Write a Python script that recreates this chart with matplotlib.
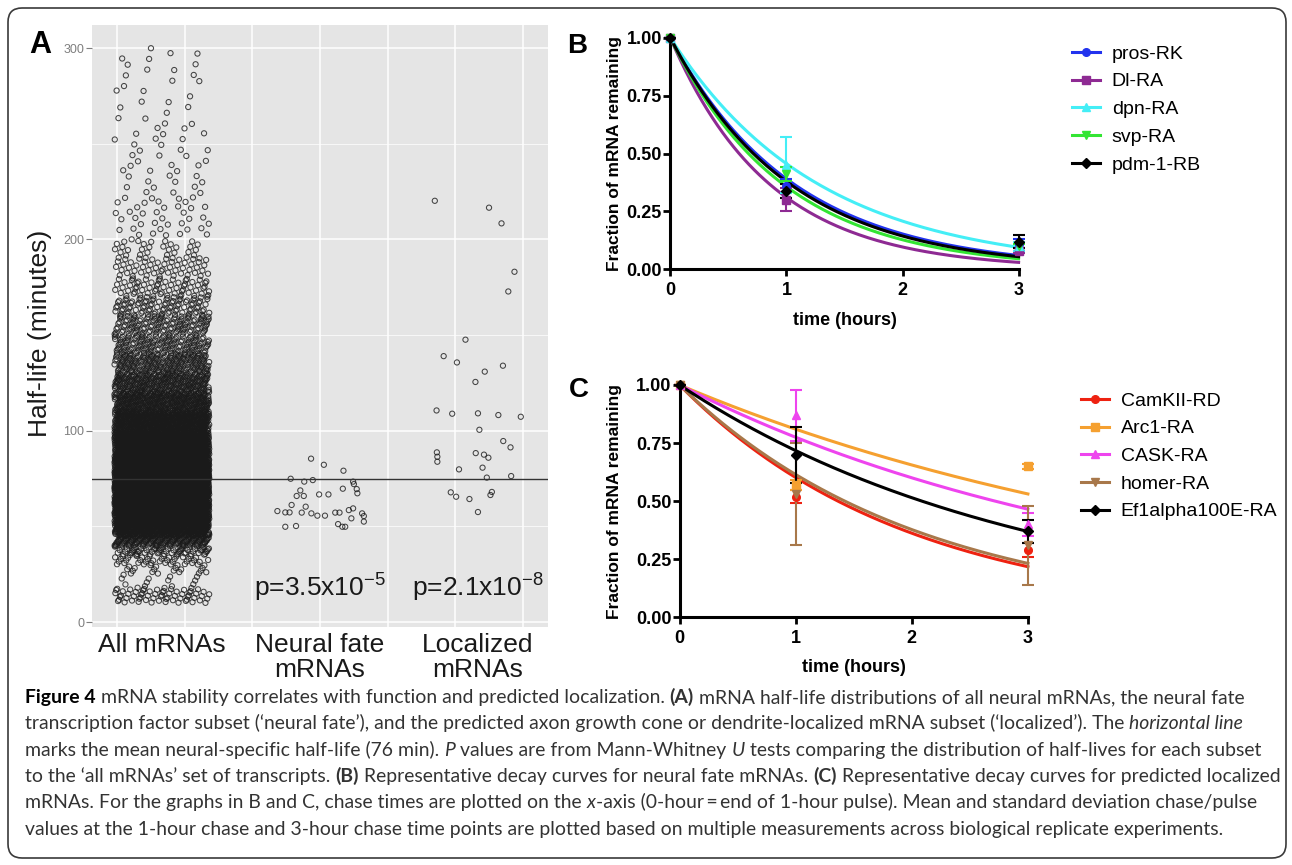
import numpy as np
import matplotlib
matplotlib.use("Agg")
import matplotlib.pyplot as plt
from matplotlib.lines import Line2D
from matplotlib.patches import FancyBboxPatch
from matplotlib.transforms import IdentityTransform
from matplotlib.font_manager import FontProperties

W, H = 1292, 865

# ---------------- panel A data ----------------
CATEGORIES = ["All mRNAs", "Neural fate\nmRNAs", "Localized\nmRNAs"]
P_LABELS = [r"p=3.5x10$^{-5}$", r"p=2.1x10$^{-8}$"]
MEAN_HALF_LIFE = 75

# all neural mRNAs, read as counts per half-life bin (minutes)
ALL_BIN_EDGES = [10, 18, 25, 30, 35, 40, 45, 50, 60, 70, 80, 90, 100, 110, 120,
                 130, 140, 150, 160, 170, 180, 190, 200, 220, 240, 260, 280, 300]
ALL_BIN_COUNTS = [65, 12, 20, 40, 70, 150, 300, 800, 1100, 1100, 900, 700, 500,
                  350, 260, 190, 140, 120, 90, 65, 50, 32, 35, 22, 18, 12, 14]

NEURAL_HALF_LIFE = [85.4, 82.2, 79.1, 74.9, 73.4, 74.2, 73.4, 72.1, 69.5, 67.3,
                    69.7, 68.8, 65.9, 65.9, 66.7, 66.7, 61.2, 60.3, 58.0, 57.3,
                    57.3, 57.2, 56.8, 55.6, 57.2, 57.2, 58.5, 59.4, 56.8, 55.4,
                    52.5, 55.6, 54.2, 51.2, 49.8, 49.8, 49.8, 50.2]
NEURAL_JITTER = [-0.056, 0.025, 0.149, -0.185, -0.099, -0.045, 0.210, 0.215, 0.233, 0.237,
                 0.145, -0.124, -0.147, -0.102, -0.005, 0.054, -0.179, -0.090, -0.269, -0.219,
                 -0.192, -0.115, -0.054, -0.016, 0.097, 0.124, 0.183, 0.210, 0.267, 0.278,
                 0.278, 0.032, 0.199, 0.115, 0.142, 0.160, -0.219, -0.151]

LOCAL_HALF_LIFE = [220.2, 216.6, 208.4, 183.1, 172.8, 147.6, 139.0, 135.7, 134.0, 130.9,
                   125.5, 110.6, 108.9, 109.1, 108.2, 107.3, 100.5, 94.6, 91.3, 88.7,
                   86.4, 83.8, 88.3, 87.5, 85.9, 79.8, 80.7, 75.5, 76.3, 67.8,
                   65.5, 64.3, 68.0, 66.4, 57.5]
LOCAL_JITTER = [-0.273, 0.070, 0.149, 0.231, 0.192, -0.079, -0.217, -0.133, 0.158, 0.043,
                -0.016, -0.262, -0.163, 0.000, 0.129, 0.271, 0.009, 0.160, 0.206, -0.260,
                -0.257, -0.257, -0.014, 0.038, 0.066, -0.120, 0.029, 0.056, 0.210, -0.172,
                -0.138, -0.054, 0.088, 0.079, 0.000]

# ---------------- panels B and C data ----------------
TIMES = [0, 1, 3]

B_GENES = ["pros-RK", "Dl-RA", "dpn-RA", "svp-RA", "pdm-1-RB"]
B_RATES = [0.94, 1.17, 0.785, 1.03, 0.97]          # fitted decay constant, 1/hour
B_MEANS = [[1.0, 0.36, 0.11], [1.0, 0.30, 0.08], [1.0, 0.45, 0.10],
           [1.0, 0.41, 0.10], [1.0, 0.34, 0.12]]
B_SDS = [[0, 0.03, 0.02], [0, 0.05, 0.01], [0, 0.12, 0.02],
         [0, 0.03, 0.01], [0, 0.03, 0.03]]
B_COLORS = ["#2233EE", "#8E2A93", "#44EEF6", "#33E533", "#000000"]

C_GENES = ["CamKII-RD", "Arc1-RA", "CASK-RA", "homer-RA", "Ef1alpha100E-RA"]
C_RATES = [0.508, 0.211, 0.255, 0.487, 0.332]
C_MEANS = [[1.0, 0.52, 0.29], [1.0, 0.57, 0.65], [1.0, 0.87, 0.40],
           [1.0, 0.53, 0.31], [1.0, 0.70, 0.37]]
C_SDS = [[0, 0.03, 0.03], [0, 0.02, 0.01], [0, 0.11, 0.05],
         [0, 0.22, 0.17], [0, 0.12, 0.05]]
C_COLORS = ["#EE2211", "#F5A030", "#EE44EE", "#A8784A", "#000000"]

MARKERS = ["o", "s", "^", "v", "D"]

CAPTION = [
    [("Figure 4", "b"), (" mRNA stability correlates with function and predicted localization. ", ""),
     ("(A)", "b"), (" mRNA half-life distributions of all neural mRNAs, the neural fate", "")],
    [("transcription factor subset (\u2018neural fate\u2019), and the predicted axon growth cone or "
      "dendrite-localized mRNA subset (\u2018localized\u2019). The ", ""), ("horizontal line", "i")],
    [("marks the mean neural-specific half-life (76 min). ", ""), ("P", "i"),
     (" values are from Mann-Whitney ", ""), ("U", "i"),
     (" tests comparing the distribution of half-lives for each subset", "")],
    [("to the \u2018all mRNAs\u2019 set of transcripts. ", ""), ("(B)", "b"),
     (" Representative decay curves for neural fate mRNAs. ", ""), ("(C)", "b"),
     (" Representative decay curves for predicted localized", "")],
    [("mRNAs. For the graphs in B and C, chase times are plotted on the ", ""), ("x", "i"),
     ("-axis (0-hour\u2009=\u2009end of 1-hour pulse). Mean and standard deviation chase/pulse", "")],
    [("values at the 1-hour chase and 3-hour chase time points are plotted based on multiple "
      "measurements across biological replicate experiments.", "")],
]

plt.rcParams["font.family"] = ["Liberation Sans", "DejaVu Sans"]
plt.rcParams["mathtext.fontset"] = "custom"
plt.rcParams["mathtext.rm"] = "Liberation Sans"
plt.rcParams["mathtext.default"] = "regular"


def px_axes(fig, x0, y0, x1, y1):
    return fig.add_axes([x0 / W, 1 - y1 / H, (x1 - x0) / W, (y1 - y0) / H])


def spread_bins(edges, counts, half_width):
    # place each binned transcript inside its bin, evenly spread like a strip chart
    a1, a2 = 0.7548776662466927, 0.5698402909980532
    xs, ys = [], []
    k = 0
    for lo, hi, n in zip(edges[:-1], edges[1:], counts):
        i = np.arange(k, k + n)
        ys.append(lo + (hi - lo) * ((0.5 + i * a2) % 1))
        xs.append(half_width * (2 * ((0.5 + i * a1) % 1) - 1))
        k += n
    return np.concatenate(xs), np.concatenate(ys)


def panel_a(fig):
    ax = px_axes(fig, 92, 25, 547.5, 627)
    ax.set_facecolor("#E5E5E5")
    for s in ax.spines.values():
        s.set_visible(False)
    ax.set_xlim(0.558, 3.44)
    ax.set_ylim(-2.6, 312.1)
    for gx in 2 + 0.428 * np.arange(-3, 4):
        ax.axvline(gx, color="white", lw=1.1, zorder=0.5)
    for gy in [0, 100, 200, 300]:
        ax.axhline(gy, color="white", lw=1.1, zorder=0.5)
    for gy in [50, 150, 250]:
        ax.axhline(gy, color="white", lw=0.5, zorder=0.5)

    style = dict(s=14, facecolors="none", edgecolors="#1a1a1a", linewidths=0.75, alpha=0.8, zorder=2)
    jx, jy = spread_bins(ALL_BIN_EDGES, ALL_BIN_COUNTS, 0.3)
    ax.scatter(1 + jx, jy, **style)
    ax.scatter(2 + np.array(NEURAL_JITTER), NEURAL_HALF_LIFE, **style)
    ax.scatter(3 + np.array(LOCAL_JITTER), LOCAL_HALF_LIFE, **style)
    ax.axhline(MEAN_HALF_LIFE, color="#333333", lw=1.0, zorder=4)

    for xi, lab in zip([2, 3], P_LABELS):
        ax.text(xi, 13.1, lab, ha="center", va="baseline", fontsize=19, color="#1a1a1a")

    ax.set_xticks([1, 2, 3])
    ax.set_xticklabels(CATEGORIES, fontsize=19, linespacing=1.1, color="#1a1a1a")
    ax.tick_params(axis="x", length=0, pad=4)
    ax.set_yticks([0, 100, 200, 300])
    ax.tick_params(axis="y", length=4, width=0.8, color="#7f7f7f", labelcolor="#7f7f7f",
                   labelsize=9, pad=1.5)
    ax.set_ylabel("Half-life (minutes)", fontsize=19, color="#1a1a1a")
    ax.yaxis.set_label_coords(-0.088, 0.487)
    fig.text(29 / W, 1 - 53 / H, "A", fontsize=22, fontweight="bold", va="baseline")


def decay_panel(fig, box, genes, rates, means, sds, colors, letter, letter_xy,
                ylab_x, xlab_y, legend_xy):
    ax = px_axes(fig, *box)
    t_fit = np.linspace(0, 3, 200)
    handles = []
    for g, k, m, sd, c, mk in zip(genes, rates, means, sds, colors, MARKERS):
        cont = ax.errorbar(TIMES, m, yerr=sd, fmt=mk, color=c, ms=5.5, elinewidth=1.5,
                           capsize=4, capthick=1.5, zorder=4)
        data_line, caps, bars = cont.lines
        data_line.set_clip_on(False)
        for a in list(caps) + list(bars):
            a.set_clip_on(False)
        ax.plot(t_fit, np.exp(-k * t_fit), color=c, lw=2.2, zorder=3, clip_on=False)
        handles.append(Line2D([], [], color=c, marker=mk, lw=2.2, ms=5.5))

    ax.set_xlim(0, 3)
    ax.set_ylim(0, 1)
    for s in ["top", "right"]:
        ax.spines[s].set_visible(False)
    for s in ["left", "bottom"]:
        ax.spines[s].set_linewidth(2.2)
    ax.set_xticks([0, 1, 2, 3])
    ax.set_xticklabels(["0", "1", "2", "3"], fontweight="bold")
    ax.set_yticks([0, 0.25, 0.5, 0.75, 1.0])
    ax.set_yticklabels(["0.00", "0.25", "0.50", "0.75", "1.00"], fontweight="bold")
    ax.tick_params(width=2, length=5, labelsize=13)
    ax.tick_params(axis="y", pad=1)
    ax.tick_params(axis="x", pad=4)
    ax.set_ylabel("Fraction of mRNA remaining", fontsize=12.5, fontweight="bold")
    ax.yaxis.set_label_coords(ylab_x, 0.5)
    ax.set_xlabel("time (hours)", fontsize=13, fontweight="bold")
    ax.xaxis.set_label_coords(0.5, xlab_y)
    ax.legend(handles, genes, loc="upper left",
              bbox_to_anchor=(legend_xy[0] / W, 1 - legend_xy[1] / H),
              bbox_transform=fig.transFigure, frameon=False, fontsize=14,
              handlelength=1.44, handletextpad=0.6, labelspacing=0.52,
              borderpad=0, borderaxespad=0)
    fig.text(letter_xy[0] / W, 1 - letter_xy[1] / H, letter, fontsize=20,
             fontweight="bold", va="baseline")


def caption(fig):
    renderer = fig.canvas.get_renderer()
    fam = "Lato"

    def prop(kind, size):
        return FontProperties(family=fam, size=size,
                              weight="bold" if kind == "b" else "normal",
                              style="italic" if kind == "i" else "normal")

    def width(txt, kind, size):
        p = prop(kind, size)
        w1 = renderer.get_text_width_height_descent("|" + txt + "|", p, ismath=False)[0]
        w0 = renderer.get_text_width_height_descent("||", p, ismath=False)[0]
        return w1 - w0

    base = 12.0
    w4 = sum(width(t, k, base) for t, k in CAPTION[3])
    size = base * 1251 / w4
    for li, runs in enumerate(CAPTION):
        x = 25.0
        y = 703 + li * 26.3
        for txt, kind in runs:
            fig.text(x / W, 1 - y / H, txt, fontproperties=prop(kind, size),
                     color="#000000" if kind == "b" and li == 0 and txt.startswith("Fig") else "#333333",
                     va="baseline", ha="left")
            x += width(txt, kind, size)


def main():
    fig = plt.figure(figsize=(W / 100, H / 100), dpi=100)
    panel_a(fig)
    decay_panel(fig, (670.3, 37.7, 1018.6, 269.3), B_GENES, B_RATES, B_MEANS, B_SDS,
                B_COLORS, "B", (567, 53), -0.139, -0.184, (1072, 45))
    decay_panel(fig, (679.6, 385, 1027.9, 617.3), C_GENES, C_RATES, C_MEANS, C_SDS,
                C_COLORS, "C", (569, 397), -0.165, -0.180, (1081, 392))
    caption(fig)
    border = FancyBboxPatch((8, H - 858), 1278, 850, boxstyle="round,pad=0,rounding_size=14",
                            transform=IdentityTransform(), fill=False, ec="#3a3a3a", lw=1.2)
    fig.add_artist(border)
    fig.savefig("out.png", dpi=100)


if __name__ == "__main__":
    main()
